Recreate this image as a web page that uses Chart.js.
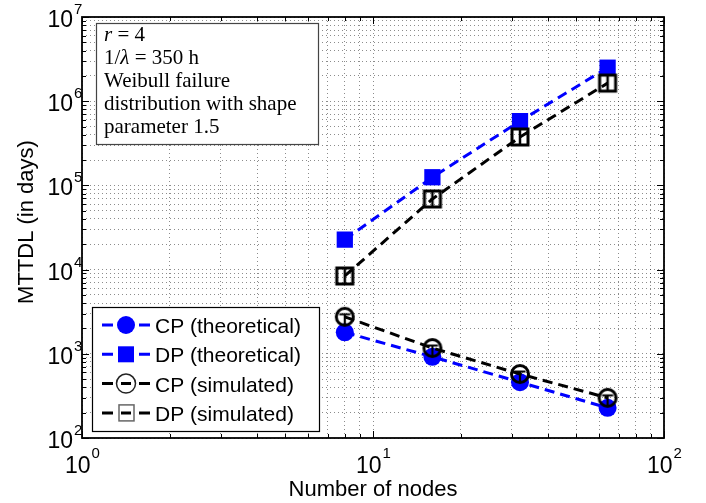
<!DOCTYPE html>
<html>
<head>
<meta charset="utf-8">
<script src="https://cdn.jsdelivr.net/npm/chart.js@4.4.0/dist/chart.umd.min.js"></script>
<style>
  html, body { margin: 0; padding: 0; background: #fff; }
</style>
</head>
<body>
<canvas id="myChart" width="706" height="503"></canvas>
<script>
// values
const nodes = [8, 16, 32, 64];
const cpTheory = [1800, 920, 460, 228];
const dpTheory = [22700, 125000, 580000, 2500000];
const cpSim = [2750, 1170, 575, 300];
const dpSim = [8400, 69000, 376000, 1640000];

const xPowers = [0, 1, 2];
const yPowers = [2, 3, 4, 5, 6, 7];
const legendLabels = ['CP (theoretical)', 'DP (theoretical)', 'CP (simulated)', 'DP (simulated)'];
const xTitle = 'Number of nodes';
const yTitle = 'MTTDL (in days)';
// [text, italic]
const noteLines = [
  [['r', true], [' = 4', false]],
  [['1/', false], ['\u03bb', true], [' = 350 h', false]],
  [['Weibull failure', false]],
  [['distribution with shape', false]],
  [['parameter 1.5', false]]
];

const SANS = '"Liberation Sans", Arial, Helvetica, sans-serif';
const SERIF = '"Liberation Serif", "Times New Roman", serif';
const BLUE = '#0000ff';

function logTicks(lo, hi) {
  const t = [];
  for (let p = lo; p < hi; p++)
    for (let m = 1; m < 10; m++) t.push({ value: m * Math.pow(10, p) });
  t.push({ value: Math.pow(10, hi) });
  return t;
}
function isMajor(v) {
  const l = Math.log10(v);
  return Math.abs(l - Math.round(l)) < 1e-9;
}

function simMarker(shape) {
  const c = document.createElement('canvas');
  c.width = 26; c.height = 26;
  const g = c.getContext('2d');
  g.strokeStyle = '#000';
  g.lineWidth = 3;
  if (shape === 'circle') {
    g.beginPath(); g.arc(13, 13, 8.5, 0, 2 * Math.PI); g.stroke();
    g.lineWidth = 2.2;
    g.beginPath();
    g.moveTo(7.5, 10.5); g.lineTo(18.5, 10.5);
    g.moveTo(13, 10.5); g.lineTo(13, 21);
    g.stroke();
  } else {
    g.strokeRect(5, 5, 16, 16);
    g.lineWidth = 2.5;
    g.beginPath(); g.moveTo(13, 5); g.lineTo(13, 21); g.stroke();
  }
  return c;
}

function pts(vals) {
  return nodes.map((n, i) => ({ x: n, y: vals[i] }));
}

const gridOpts = {
  color: 'rgba(0,0,0,0.45)',
  lineWidth: 1,
  drawTicks: false
};

const frame = {
  id: 'frame',
  afterDraw(chart) {
    const { ctx, chartArea: a, scales: { x, y } } = chart;
    ctx.save();

    // inward tick marks
    ctx.strokeStyle = '#000';
    ctx.lineWidth = 1;
    ctx.beginPath();
    x.ticks.forEach(t => {
      const px = Math.round(x.getPixelForValue(t.value)) + 0.5;
      const len = isMajor(t.value) ? 7 : 4;
      ctx.moveTo(px, a.bottom); ctx.lineTo(px, a.bottom - len);
      ctx.moveTo(px, a.top); ctx.lineTo(px, a.top + len);
    });
    y.ticks.forEach(t => {
      const py = Math.round(y.getPixelForValue(t.value)) + 0.5;
      const len = isMajor(t.value) ? 7 : 4;
      ctx.moveTo(a.left, py); ctx.lineTo(a.left + len, py);
      ctx.moveTo(a.right, py); ctx.lineTo(a.right - len, py);
    });
    ctx.stroke();

    ctx.lineWidth = 1.8;
    ctx.strokeRect(a.left, a.top, a.right - a.left, a.bottom - a.top);

    // tick labels 10^n
    ctx.fillStyle = '#000';
    ctx.textBaseline = 'alphabetic';
    const big = '23px ' + SANS, small = '15px ' + SANS;
    xPowers.forEach(p => {
      const px = x.getPixelForValue(Math.pow(10, p));
      ctx.font = big; const w1 = ctx.measureText('10').width;
      ctx.font = small; const w2 = ctx.measureText(String(p)).width;
      const x0 = px - (w1 + w2) / 2;
      ctx.font = big; ctx.textAlign = 'left'; ctx.fillText('10', x0, a.bottom + 35);
      ctx.font = small; ctx.fillText(String(p), x0 + w1 + 1, a.bottom + 20);
    });
    yPowers.forEach(p => {
      const py = y.getPixelForValue(Math.pow(10, p));
      ctx.font = big; ctx.textAlign = 'right'; ctx.fillText('10', a.left - 9, py + 10);
      ctx.font = small; ctx.textAlign = 'left'; ctx.fillText(String(p), a.left - 8, py - 3);
    });

    // axis titles
    ctx.font = '22px ' + SANS;
    ctx.textAlign = 'center';
    ctx.fillText(xTitle, (a.left + a.right) / 2, a.bottom + 58);
    ctx.save();
    ctx.translate(33, 222);
    ctx.rotate(-Math.PI / 2);
    ctx.fillText(yTitle, 0, 0);
    ctx.restore();

    // note box
    ctx.fillStyle = '#fff';
    ctx.fillRect(96, 23, 222, 121);
    ctx.strokeStyle = '#444';
    ctx.lineWidth = 1.2;
    ctx.strokeRect(96.5, 23.5, 222, 121);
    ctx.fillStyle = '#000';
    ctx.textAlign = 'left';
    noteLines.forEach((segs, i) => {
      let cx = 104;
      segs.forEach(([txt, it]) => {
        ctx.font = (it ? 'italic ' : '') + '21px ' + SERIF;
        ctx.fillText(txt, cx, 41 + i * 23);
        cx += ctx.measureText(txt).width;
      });
    });

    // legend
    ctx.fillStyle = '#fff';
    ctx.fillRect(92, 307, 227, 124);
    ctx.strokeStyle = '#000';
    ctx.lineWidth = 1.2;
    ctx.strokeRect(92.5, 307.5, 227, 124);
    chart.data.datasets.forEach((ds, i) => {
      const ly = 325 + i * 29.3;
      ctx.strokeStyle = ds.borderColor;
      ctx.lineWidth = 3;
      ctx.beginPath();
      ctx.moveTo(102, ly); ctx.lineTo(113, ly);
      ctx.moveTo(139, ly); ctx.lineTo(150, ly);
      if (ds.legendMarker === 'ring' || ds.legendMarker === 'box') {
        ctx.moveTo(121, ly); ctx.lineTo(131, ly);
      }
      ctx.stroke();
      ctx.fillStyle = ds.borderColor;
      if (ds.legendMarker === 'dot') {
        ctx.beginPath(); ctx.arc(126, ly, 9, 0, 2 * Math.PI); ctx.fill();
      } else if (ds.legendMarker === 'square') {
        ctx.fillRect(118, ly - 8, 16, 16);
      } else if (ds.legendMarker === 'ring') {
        ctx.strokeStyle = '#222'; ctx.lineWidth = 1.5;
        ctx.beginPath(); ctx.arc(126, ly, 9.5, 0, 2 * Math.PI); ctx.stroke();
      } else {
        ctx.strokeStyle = '#666'; ctx.lineWidth = 1.5;
        ctx.strokeRect(119, ly - 8, 15, 16);
      }
      ctx.fillStyle = '#000';
      ctx.font = '21px ' + SANS;
      ctx.textAlign = 'left';
      ctx.fillText(ds.label, 155, ly + 8);
    });

    ctx.restore();
  }
};

const chartContext = document.getElementById('myChart').getContext('2d');
const myChart = new Chart(chartContext, {
  type: 'line',
  data: {
    datasets: [
      {
        label: legendLabels[0], data: pts(cpTheory), legendMarker: 'dot', order: 2,
        borderColor: BLUE, backgroundColor: BLUE, borderWidth: 3, borderDash: [10, 6],
        pointStyle: 'circle', pointRadius: 9, pointBorderWidth: 0, pointBackgroundColor: BLUE
      },
      {
        label: legendLabels[1], data: pts(dpTheory), legendMarker: 'square', order: 2,
        borderColor: BLUE, backgroundColor: BLUE, borderWidth: 3, borderDash: [10, 6],
        pointStyle: 'rect', pointRadius: 11.5, pointBorderWidth: 0, pointBackgroundColor: BLUE
      },
      {
        label: legendLabels[2], data: pts(cpSim), legendMarker: 'ring', order: 1,
        borderColor: '#000', backgroundColor: '#000', borderWidth: 3, borderDash: [10, 6],
        pointStyle: simMarker('circle'), pointRadius: 10
      },
      {
        label: legendLabels[3], data: pts(dpSim), legendMarker: 'box', order: 1,
        borderColor: '#000', backgroundColor: '#000', borderWidth: 3, borderDash: [10, 6],
        pointStyle: simMarker('square'), pointRadius: 10
      }
    ]
  },
  options: {
    responsive: false,
    animation: false,
    devicePixelRatio: 1,
    layout: { padding: { left: 82, right: 42, top: 17, bottom: 65 } },
    plugins: { legend: { display: false }, tooltip: { enabled: false } },
    scales: {
      x: {
        type: 'logarithmic', min: 1, max: 100,
        afterBuildTicks: s => { s.ticks = logTicks(0, 2); },
        ticks: { display: false },
        grid: gridOpts,
        border: { display: false, dash: [1, 3] }
      },
      y: {
        type: 'logarithmic', min: 100, max: 1e7,
        afterBuildTicks: s => { s.ticks = logTicks(2, 7); },
        ticks: { display: false },
        grid: gridOpts,
        border: { display: false, dash: [1, 3] }
      }
    }
  },
  plugins: [frame]
});
</script>
</body>
</html>
